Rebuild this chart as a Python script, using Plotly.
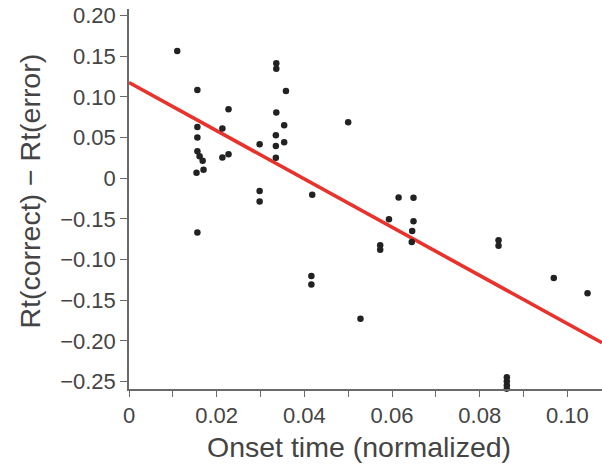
import plotly.graph_objects as go

# Data
onset_time = [
    0.0110, 0.0156, 0.0156, 0.0156, 0.0156, 0.0161, 0.0168, 0.0154, 0.0170, 0.0156,
    0.0213, 0.0227, 0.0213, 0.0227, 0.0298, 0.0298, 0.0298,
    0.0336, 0.0336, 0.0358, 0.0336, 0.0354, 0.0335, 0.0335, 0.0354, 0.0335,
    0.0418, 0.0416, 0.0416, 0.0500, 0.0528,
    0.0573, 0.0573, 0.0593, 0.0615, 0.0649, 0.0649, 0.0646, 0.0645,
    0.0843, 0.0843, 0.0969, 0.1046,
    0.0862, 0.0862, 0.0862, 0.0862,
]
rt_diff = [
    0.1564, 0.1085, 0.0630, 0.0500, 0.0332, 0.0270, 0.0215, 0.0068, 0.0104, -0.0667,
    0.0611, 0.0848, 0.0254, 0.0295, 0.0418, -0.0156, -0.0286,
    0.1413, 0.1345, 0.1072, 0.0807, 0.0651, 0.0528, 0.0397, 0.0442, 0.0252,
    -0.0203, -0.1201, -0.1306, 0.0688, -0.1726,
    -0.0823, -0.0878, -0.0504, -0.0237, -0.0240, -0.0528, -0.0647, -0.0783,
    -0.0762, -0.0829, -0.1225, -0.1413,
    -0.2445, -0.2494, -0.2543, -0.2586,
]

fit_intercept = 0.1176
fit_slope = -2.963

x_range = [0, 0.1079]
y_range = [-0.259, 0.208]

y_tick_vals = [0.20, 0.15, 0.10, 0.05, 0, -0.05, -0.10, -0.15, -0.20, -0.25]
y_tick_text = ["0.20", "0.15", "0.10", "0.05", "0", "\u22120.15", "\u22120.10", "\u22120.15", "\u22120.20", "\u22120.25"]
x_tick_vals = [0, 0.02, 0.04, 0.06, 0.08, 0.10]
x_tick_text = ["0", "0.02", "0.04", "0.06", "0.08", "0.10"]

x_title = "Onset time (normalized)"
y_title = "Rt(correct) \u2212 Rt(error)"

FONT = "Liberation Sans, Arial, sans-serif"
TEXT_COLOR = "#444444"
AXIS_COLOR = "#6a6a6a"

fit_x = list(x_range)
fit_y = [fit_intercept + fit_slope * v for v in fit_x]

fig = go.Figure()
fig.add_trace(go.Scatter(
    x=fit_x, y=fit_y, mode="lines",
    line=dict(color="#e8322b", width=3.6),
    hoverinfo="skip", showlegend=False, cliponaxis=True,
))
fig.add_trace(go.Scatter(
    x=onset_time, y=rt_diff, mode="markers",
    marker=dict(color="#222222", size=6.5, line=dict(width=0)),
    showlegend=False, cliponaxis=False,
))

fig.update_layout(
    width=602, height=469,
    margin=dict(l=129, r=0, t=9, b=80, autoexpand=False),
    paper_bgcolor="white", plot_bgcolor="white",
    font=dict(family=FONT, color=TEXT_COLOR),
    showlegend=False,
)
fig.update_xaxes(
    range=x_range, showgrid=False, zeroline=False, automargin=False,
    showline=True, linecolor=AXIS_COLOR, linewidth=1.5,
    ticks="outside", ticklen=6, tickwidth=1.2, tickcolor=AXIS_COLOR,
    tickvals=x_tick_vals, ticktext=x_tick_text,
    tickfont=dict(size=22, color=TEXT_COLOR, family=FONT),
    minor=dict(dtick=0.01, tick0=0, ticks="outside", ticklen=6, tickwidth=1.2, tickcolor=AXIS_COLOR, showgrid=False),
)
fig.update_yaxes(
    range=y_range, showgrid=False, zeroline=False, automargin=False,
    showline=True, linecolor=AXIS_COLOR, linewidth=1.5,
    ticks="outside", ticklen=7, tickwidth=1.2, tickcolor=AXIS_COLOR,
    tickvals=y_tick_vals, ticktext=y_tick_text,
    tickfont=dict(size=22, color=TEXT_COLOR, family=FONT),
)

# Axis titles as annotations for exact placement
fig.add_annotation(
    text=x_title, xref="paper", yref="paper", x=0.4873, y=-0.1526,
    xanchor="center", yanchor="middle", showarrow=False,
    font=dict(size=28.5, color=TEXT_COLOR, family=FONT),
)
fig.add_annotation(
    text=y_title, xref="paper", yref="paper", x=-0.2093, y=0.5197,
    xanchor="center", yanchor="middle", showarrow=False, textangle=-90,
    font=dict(size=28.5, color=TEXT_COLOR, family=FONT),
)

fig.write_html(
    "out.html",
    config={"displayModeBar": False},
    post_script="document.body.style.margin='0';document.body.style.padding='0';",
)
